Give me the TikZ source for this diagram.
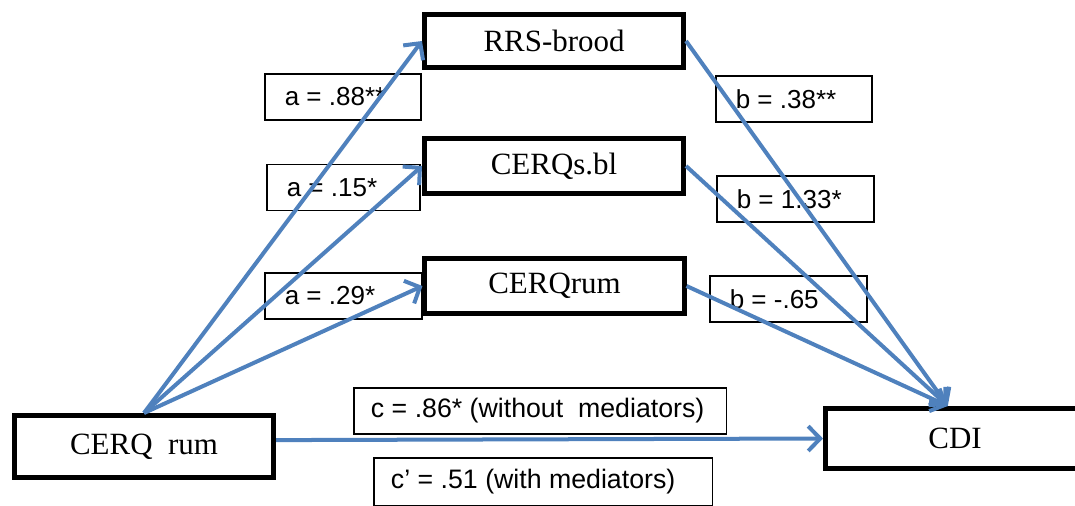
\documentclass[tikz,border=0pt]{standalone}
\usepackage{fontspec}
\setmainfont{Liberation Serif}
\setsansfont{Liberation Sans}
\usetikzlibrary{arrows.meta}
\definecolor{pathblue}{HTML}{4F81BD}

\begin{document}
\begin{tikzpicture}[x=0.025cm,y=-0.025cm,>={Straight Barb[length=0.3cm,width=0.62cm]}]
  \tikzstyle{var}=[draw,line width=0.125cm,minimum width=6.475cm,fill=white,inner sep=0pt,font=\fontsize{22}{26}\selectfont]
  \tikzstyle{coef}=[draw,line width=1.1pt,anchor=west,inner xsep=0.5cm,inner ysep=0pt,minimum height=1.16cm,align=flush left,font=\sffamily\fontsize{18.5}{22}\selectfont]
  \tikzstyle{path}=[->,draw=pathblue,line width=0.1cm]
  \useasboundingbox (0,0) rectangle (1075,505);
  % coefficient labels
  \node[coef,text width=2.91cm] (a88) at (264,97) {a = .88**};
  \node[coef,text width=2.835cm] (a15) at (266,187.5) {a = .15*};
  \node[coef,text width=2.935cm] (a29) at (264,296) {a = .29*};
  \node[coef,text width=2.91cm] (b38) at (715,99) {b = .38**};
  \node[coef,text width=2.935cm] (b133) at (716,199) {b = 1.33*};
  \node[coef,text width=2.935cm] (b65) at (709,299) {b = -.65};
  \node[coef,text width=8.45cm,inner xsep=0.43cm,font=\sffamily\fontsize{19}{23}\selectfont] (c86) at (353,411) {c = .86* (without\ \ mediators)};
  \node[coef,text width=7.6cm,inner xsep=0.43cm,minimum height=1.21cm,font=\sffamily\fontsize{19}{23}\selectfont] (c51) at (373,482) {c’ = .51 (with mediators)};
  % variables
  \node[var,minimum height=1.325cm] (rrs) at (554,41) {RRS-brood};
  \node[var,minimum height=1.375cm] (sbl) at (554,166) {CERQs.bl};
  \node[var,minimum height=1.35cm] (rum) at (554.5,286) {CERQrum};
  \node[var,minimum height=1.55cm] (x) at (144,446.5) {CERQ\ \ rum};
  \node[var,minimum height=1.5cm] (cdi) at (955,438.5) {CDI};
  \coordinate (cdiin) at ([xshift=-0.18cm]cdi.north);
  % paths
  \draw[path] (x.north) -- (rrs.west);
  \draw[path] (x.north) -- (sbl.west);
  \draw[path] (x.north) -- (rum.west);
  \draw[path] (rrs.east) -- (cdiin);
  \draw[path] (sbl.east) -- (cdiin);
  \draw[path] (rum.east) -- (cdiin);
  \draw[path] ([yshift=0.16cm]x.east) -- (cdi.west);
\end{tikzpicture}
\end{document}
